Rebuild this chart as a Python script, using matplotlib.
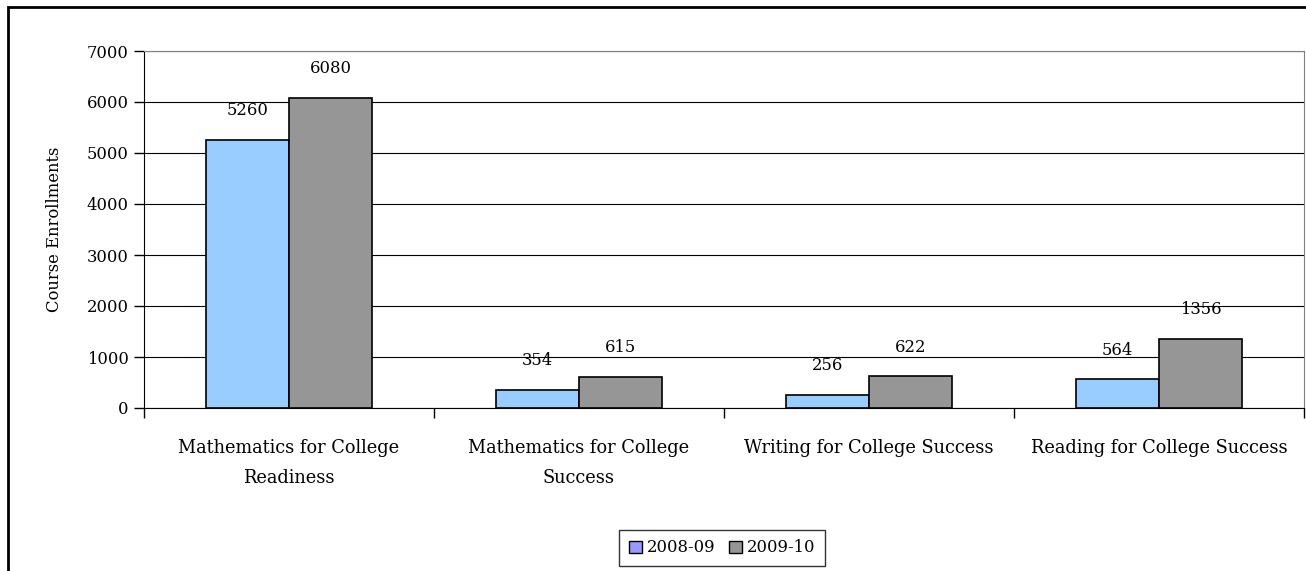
import matplotlib
matplotlib.use("Agg")
import matplotlib.pyplot as plt
from matplotlib.patches import Rectangle, Patch
import numpy as np

categories = ["Mathematics for College\nReadiness", "Mathematics for College\nSuccess",
              "Writing for College Success", "Reading for College Success"]
series_names = ["2008-09", "2009-10"]
values_0809 = [5260, 354, 256, 564]
values_0910 = [6080, 615, 622, 1356]
yticks = [0, 1000, 2000, 3000, 4000, 5000, 6000, 7000]

plt.rcParams['font.family'] = ['DejaVu Serif']
FS = 11.8
W, H = 1306, 571
fig = plt.figure(figsize=(W/100, H/100), dpi=100)
ax = fig.add_axes([144/W, 1-408/H, (1304-144)/W, (408-51)/H])

x = np.arange(len(categories))
bw = 0.286
b1 = ax.bar(x - bw/2, values_0809, bw, color="#99CCFF", edgecolor="black", linewidth=1.2, zorder=3)
b2 = ax.bar(x + bw/2, values_0910, bw, color="#969696", edgecolor="black", linewidth=1.2, zorder=3)

for rects, vals in ((b1, values_0809), (b2, values_0910)):
    for r, v in zip(rects, vals):
        ax.annotate(str(v), (r.get_x() + r.get_width()/2, v), xytext=(0, 21),
                    textcoords="offset points", ha="center", va="center", fontsize=FS)

ax.set_xlim(-0.5, len(categories) - 0.5)
ax.set_ylim(0, 7000)
ax.set_yticks(yticks)
ax.set_yticklabels([str(t) for t in yticks], fontsize=FS)
ax.yaxis.grid(True, color="black", linewidth=0.8, zorder=0)
ax.set_xticks(np.arange(len(categories)+1) - 0.5, minor=False)
ax.set_xticklabels([])
ax.tick_params(axis="x", length=7, direction="out", width=1)
ax.tick_params(axis="y", length=7, direction="out", width=1, pad=4)
for i, c in enumerate(categories):
    ax.text(i, -0.088, c, transform=ax.get_xaxis_transform(), ha="center", va="top",
            fontsize=12.8, linespacing=1.85)
for s in ("top", "right"):
    ax.spines[s].set_color("#808080")
ax.spines["left"].set_color("black")
ax.spines["bottom"].set_color("black")
ax.set_ylabel("Course Enrollments", fontsize=FS, labelpad=17)

handles = [Patch(facecolor="#9999FF", edgecolor="black"), Patch(facecolor="#969696", edgecolor="black")]
fig.legend(handles, series_names, loc="center", bbox_to_anchor=(722/W, 1-548/H), ncol=2,
           frameon=True, fancybox=False, edgecolor="black", fontsize=FS,
           handlelength=0.8, handleheight=0.8, handletextpad=0.3, columnspacing=0.8,
           borderpad=0.6)

fig.patches.append(Rectangle((8/W, -0.1), 1.2, 1-7/H+0.1, transform=fig.transFigure,
                             fill=False, edgecolor="black", linewidth=2))
fig.savefig("out.png", dpi=100)
